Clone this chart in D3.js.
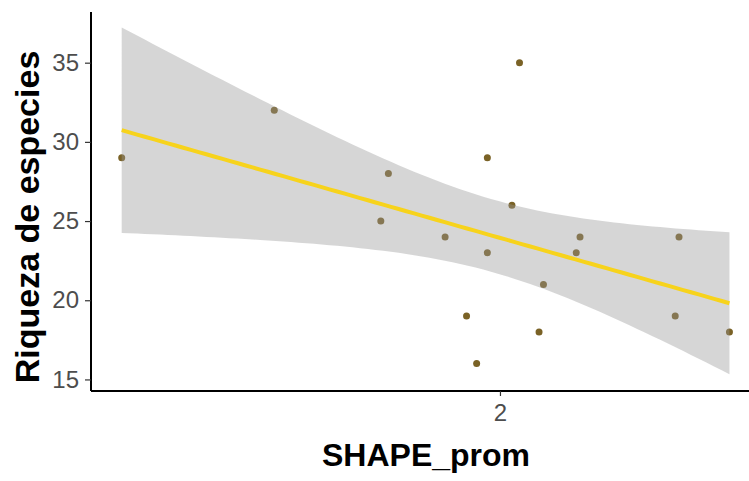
<!DOCTYPE html>
<html>
<head>
<meta charset="utf-8">
<script src="https://cdn.jsdelivr.net/npm/d3@7"></script>
<style>
    body { margin: 0; background: #fff; }
    svg { display: block; font-family: "Liberation Sans", Arial, sans-serif; }
</style>
</head>
<body>
<script>
// data
const shapeProm = [1.400, 1.642, 1.811, 1.823, 1.913, 1.947, 1.963, 1.980, 1.980,
    2.019, 2.031, 2.062, 2.069, 2.121, 2.127, 2.278, 2.284, 2.364]
const riqueza = [29, 32, 25, 28, 24, 19, 16, 29, 23,
    26, 35, 18, 21, 23, 24, 19, 24, 18]
const xTicks = [2]
const yTicks = [15, 20, 25, 30, 35]

const xTitle = "SHAPE_prom"
const yTitle = "Riqueza de especies"

const width = 749,
    height = 481

const margin = {
    top: 12,
    left: 91,
    bottom: 391
}

let points = shapeProm.map((d, i) => [d, riqueza[i]])

// linear model like geom_smooth(method = "lm")
function linearFit(data) {
    let n = data.length
    let mx = d3.mean(data, d => d[0])
    let my = d3.mean(data, d => d[1])
    let sxx = d3.sum(data, d => (d[0] - mx) ** 2)
    let sxy = d3.sum(data, d => (d[0] - mx) * (d[1] - my))
    let slope = sxy / sxx
    let icpt = my - slope * mx
    let sse = d3.sum(data, d => (d[1] - (icpt + slope * d[0])) ** 2)
    let s = Math.sqrt(sse / (n - 2))
    let tcrit = 2.1199 // t(0.975, 16)
    let xs = d3.extent(data, d => d[0])
    let out = []
    for (let i = 0; i < 80; i++) {
        let xv = xs[0] + (xs[1] - xs[0]) * i / 79
        let fit = icpt + slope * xv
        let se = s * Math.sqrt(1 / n + (xv - mx) ** 2 / sxx)
        out.push({ x: xv, y: fit, lo: fit - tcrit * se, hi: fit + tcrit * se })
    }
    return out
}

let smooth = linearFit(points)

const svg = d3.select("body")
    .append("svg")
    .attr("width", width)
    .attr("height", height)

const x = d3.scaleLinear()
    .domain([1.3513, 2.412])
    .range([margin.left, 759.7])

const y = d3.scaleLinear()
    .domain([14.27, 38.2])
    .range([margin.bottom, margin.top])

// points first, the band goes over them
svg.append("g")
    .selectAll("circle")
    .data(points)
    .join("circle")
    .attr("cx", d => x(d[0]))
    .attr("cy", d => y(d[1]))
    .attr("r", 3.5)
    .attr("fill", "#7a6226")

svg.append("path")
    .datum(smooth)
    .attr("fill", "#999999")
    .attr("fill-opacity", 0.4)
    .attr("d", d3.area()
        .x(d => x(d.x))
        .y0(d => y(d.lo))
        .y1(d => y(d.hi)))

svg.append("path")
    .datum(smooth)
    .attr("fill", "none")
    .attr("stroke", "#f7d31c")
    .attr("stroke-width", 4)
    .attr("d", d3.line()
        .x(d => x(d.x))
        .y(d => y(d.y)))

// axes
let xAxis = svg.append("g")
    .attr("transform", `translate(0, ${margin.bottom})`)
    .call(d3.axisBottom(x).tickValues(xTicks).tickFormat(d3.format("d")).tickSize(5).tickPadding(8))

let yAxis = svg.append("g")
    .attr("transform", `translate(${margin.left}, 0)`)
    .call(d3.axisLeft(y).tickValues(yTicks).tickSize(6).tickPadding(6))

svg.selectAll(".domain")
    .attr("stroke", "#000")
    .attr("stroke-width", 2)

xAxis.select(".domain").attr("d", `M${margin.left},0H${width}`)
yAxis.select(".domain").attr("d", `M0,${margin.top}V${margin.bottom}`)

svg.selectAll(".tick line")
    .attr("stroke", "#333")
    .attr("stroke-width", 1.2)

svg.selectAll(".tick text")
    .attr("fill", "#4d4d4d")
    .style("font-size", "24px")

// axis titles
svg.append("text")
    .attr("x", 426)
    .attr("y", 466)
    .attr("text-anchor", "middle")
    .style("font-size", "32px")
    .style("font-weight", "bold")
    .text(xTitle)

svg.append("text")
    .attr("transform", "translate(39, 217) rotate(-90)")
    .attr("text-anchor", "middle")
    .style("font-size", "34px")
    .style("font-weight", "bold")
    .text(yTitle)
</script>
</body>
</html>
